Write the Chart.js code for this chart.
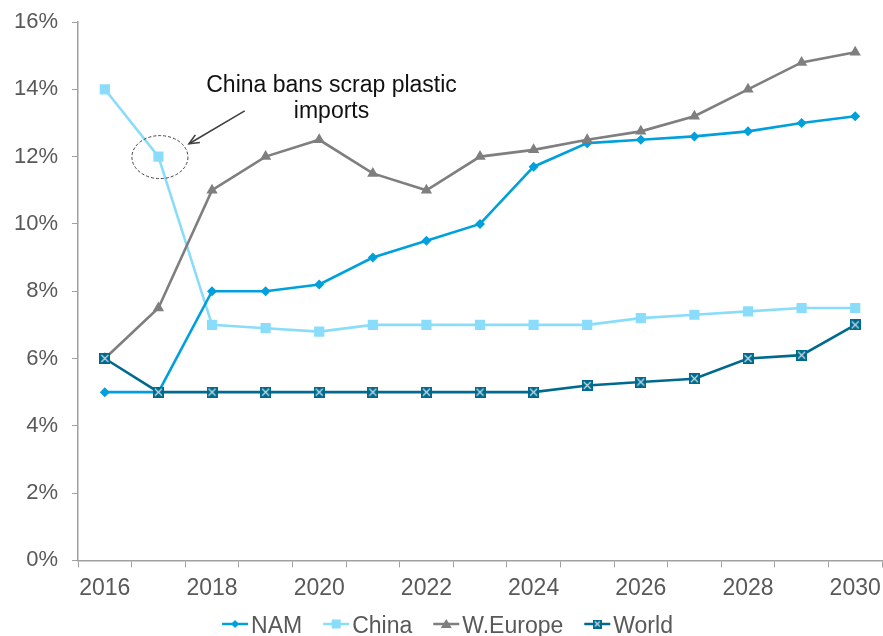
<!DOCTYPE html>
<html><head><meta charset="utf-8">
<script src="https://cdn.jsdelivr.net/npm/chart.js@4/dist/chart.umd.min.js"></script>
<style>html,body{margin:0;padding:0;background:#fff}</style>
</head><body>
<canvas id="c" width="883" height="636"></canvas>
<script>
// ---- data ----
const years = ['2016','2017','2018','2019','2020','2021','2022','2023','2024','2025','2026','2027','2028','2029','2030'];
const nam     = [5, 5, 8, 8, 8.2, 9, 9.5, 10, 11.7, 12.4, 12.5, 12.6, 12.75, 13, 13.2];
const china   = [14, 12, 7, 6.9, 6.8, 7, 7, 7, 7, 7, 7.2, 7.3, 7.4, 7.5, 7.5];
const weurope = [6, 7.5, 11, 12, 12.5, 11.5, 11, 12, 12.2, 12.5, 12.75, 13.2, 14, 14.8, 15.1];
const world   = [6, 5, 5, 5, 5, 5, 5, 5, 5, 5.2, 5.3, 5.4, 6, 6.1, 7];
const seriesNames = ['NAM', 'China', 'W.Europe', 'World'];
const yTickValues = [0, 2, 4, 6, 8, 10, 12, 14, 16];
const annotationLines = ['China bans scrap plastic', 'imports'];
// annotation anchors in data units (category index, percent)
const annotationTextAt = [4.23, 14.1];
const arrowFrom = [2.61, 13.36];
const arrowTo = [1.57, 12.38];
const circledPoint = [1, 12];

const FONT = '"Liberation Sans", Arial, sans-serif';
const TEXT = '#595959';
const AXIS = '#A0A0A0';
const C_NAM = '#00A0DC', C_CHINA = '#8ADDFA', C_EU = '#7F7F7F', C_WORLD = '#006A8E';

function worldMarker(size) {
  const c = document.createElement('canvas');
  c.width = size; c.height = size;
  const g = c.getContext('2d');
  g.fillStyle = C_WORLD; g.fillRect(0, 0, size, size);
  g.strokeStyle = '#CFE3EA'; g.lineWidth = 1.1;
  g.beginPath();
  g.moveTo(2, 2); g.lineTo(size - 2, size - 2);
  g.moveTo(size - 2, 2); g.lineTo(2, size - 2);
  g.stroke();
  return c;
}
const worldImg = worldMarker(11);
const worldImgSmall = worldMarker(9);

const lineLegend = {
  id: 'lineLegend',
  afterDraw(chart) {
    const ctx = chart.ctx;
    ctx.save();
    ctx.font = '23px ' + FONT;
    const dss = chart.data.datasets;
    const lineW = 26, gap = 3, sep = 21;
    const widths = dss.map(d => ctx.measureText(d.label).width);
    const total = widths.reduce((s, w) => s + lineW + gap + w, 0) + sep * (dss.length - 1);
    let x = chart.width / 2 - total / 2 + 6;
    const y = 624;
    dss.forEach((d, i) => {
      ctx.strokeStyle = d.borderColor; ctx.lineWidth = 2.5;
      ctx.beginPath(); ctx.moveTo(x, y); ctx.lineTo(x + lineW, y); ctx.stroke();
      const cx = x + lineW / 2;
      ctx.fillStyle = d.borderColor;
      const st = d.legendStyle;
      if (st === 'diamond') {
        ctx.beginPath(); ctx.moveTo(cx, y - 4); ctx.lineTo(cx + 4, y); ctx.lineTo(cx, y + 4); ctx.lineTo(cx - 4, y); ctx.closePath(); ctx.fill();
      } else if (st === 'square') {
        ctx.fillRect(cx - 4.5, y - 4.5, 9, 9);
      } else if (st === 'triangle') {
        ctx.beginPath(); ctx.moveTo(cx, y - 5); ctx.lineTo(cx + 5.5, y + 4); ctx.lineTo(cx - 5.5, y + 4); ctx.closePath(); ctx.fill();
      } else {
        ctx.drawImage(worldImgSmall, cx - 4.5, y - 4.5);
      }
      ctx.fillStyle = TEXT; ctx.textBaseline = 'alphabetic'; ctx.textAlign = 'left';
      ctx.fillText(d.label, x + lineW + gap, y + 8.5);
      x += lineW + gap + widths[i] + sep;
    });
    ctx.restore();
  }
};

const annotation = {
  id: 'annotation',
  afterDatasetsDraw(chart) {
    const ctx = chart.ctx, xs = chart.scales.x, ys = chart.scales.y;
    const px = a => [xs.getPixelForValue(a[0]), ys.getPixelForValue(a[1])];
    ctx.save();
    // dashed ellipse around the 2017 China point
    const [ex, ey] = px(circledPoint);
    ctx.setLineDash([3, 2]); ctx.strokeStyle = '#404040'; ctx.lineWidth = 1;
    ctx.beginPath(); ctx.ellipse(ex + 1.5, ey + 0.5, 28, 21.5, 0, 0, Math.PI * 2); ctx.stroke();
    ctx.setLineDash([]);
    // arrow
    const [ax, ay] = px(arrowFrom), [bx, by] = px(arrowTo);
    ctx.strokeStyle = '#404040'; ctx.lineWidth = 1.6;
    ctx.beginPath(); ctx.moveTo(ax, ay); ctx.lineTo(bx, by); ctx.stroke();
    const ang = Math.atan2(by - ay, bx - ax), L = 11, W = 0.42;
    ctx.beginPath();
    ctx.moveTo(bx - L * Math.cos(ang - W), by - L * Math.sin(ang - W));
    ctx.lineTo(bx, by);
    ctx.lineTo(bx - L * Math.cos(ang + W), by - L * Math.sin(ang + W));
    ctx.stroke();
    // text
    const [tx, ty] = px(annotationTextAt);
    ctx.fillStyle = '#111'; ctx.font = '23px ' + FONT; ctx.textAlign = 'center'; ctx.textBaseline = 'middle';
    annotationLines.forEach((t, i) => ctx.fillText(t, tx, ty + i * 25.5));
    ctx.restore();
  }
};

new Chart(document.getElementById('c'), {
  type: 'line',
  data: {
    labels: years,
    datasets: [
      { label: seriesNames[0], data: nam, borderColor: C_NAM, backgroundColor: C_NAM, borderWidth: 2.6,
        pointStyle: 'rectRot', pointRadius: 5, pointBorderWidth: 0, legendStyle: 'diamond', order: 3 },
      { label: seriesNames[1], data: china, borderColor: C_CHINA, backgroundColor: C_CHINA, borderWidth: 2.6,
        pointStyle: 'rect', pointRadius: 7.2, pointBorderWidth: 0, legendStyle: 'square', order: 4 },
      { label: seriesNames[2], data: weurope, borderColor: C_EU, backgroundColor: C_EU, borderWidth: 2.6,
        pointStyle: 'triangle', pointRadius: 6.5, pointBorderWidth: 0, legendStyle: 'triangle', order: 2 },
      { label: seriesNames[3], data: world, borderColor: C_WORLD, backgroundColor: C_WORLD, borderWidth: 2.6,
        pointStyle: worldImg, pointRadius: 6, pointBorderWidth: 0, legendStyle: 'image', order: 1 }
    ]
  },
  options: {
    responsive: false,
    animation: false,
    devicePixelRatio: 1,
    layout: { autoPadding: false, padding: { left: 0, right: 1, top: 22, bottom: 27 } },
    plugins: { legend: { display: false }, tooltip: { enabled: false } },
    elements: { line: { tension: 0 } },
    scales: {
      x: {
        type: 'category', offset: true,
        afterFit: s => { s.paddingLeft = 0; s.paddingRight = 0; },
        grid: { display: true, offset: true, drawOnChartArea: false, drawTicks: true, tickLength: 7, color: AXIS, lineWidth: 1 },
        border: { display: true, color: AXIS, width: 1.5 },
        ticks: { autoSkip: false, maxRotation: 0, minRotation: 0, padding: 7, color: TEXT,
          font: { family: FONT, size: 23 },
          callback: (v, i) => (i % 2 === 0 ? years[i] : '') }
      },
      y: {
        min: yTickValues[0], max: yTickValues[yTickValues.length - 1],
        afterBuildTicks: s => { s.ticks = yTickValues.map(v => ({ value: v })); },
        afterFit: s => { s.paddingTop = 0; s.paddingBottom = 0; },
        grid: { display: true, drawOnChartArea: false, drawTicks: true, tickLength: 6, color: AXIS },
        border: { display: true, color: AXIS, width: 1.5 },
        ticks: { padding: 14, color: TEXT, font: { family: FONT, size: 22 }, callback: v => v + '%' }
      }
    }
  },
  plugins: [annotation, lineLegend]
});
</script>
</body></html>
